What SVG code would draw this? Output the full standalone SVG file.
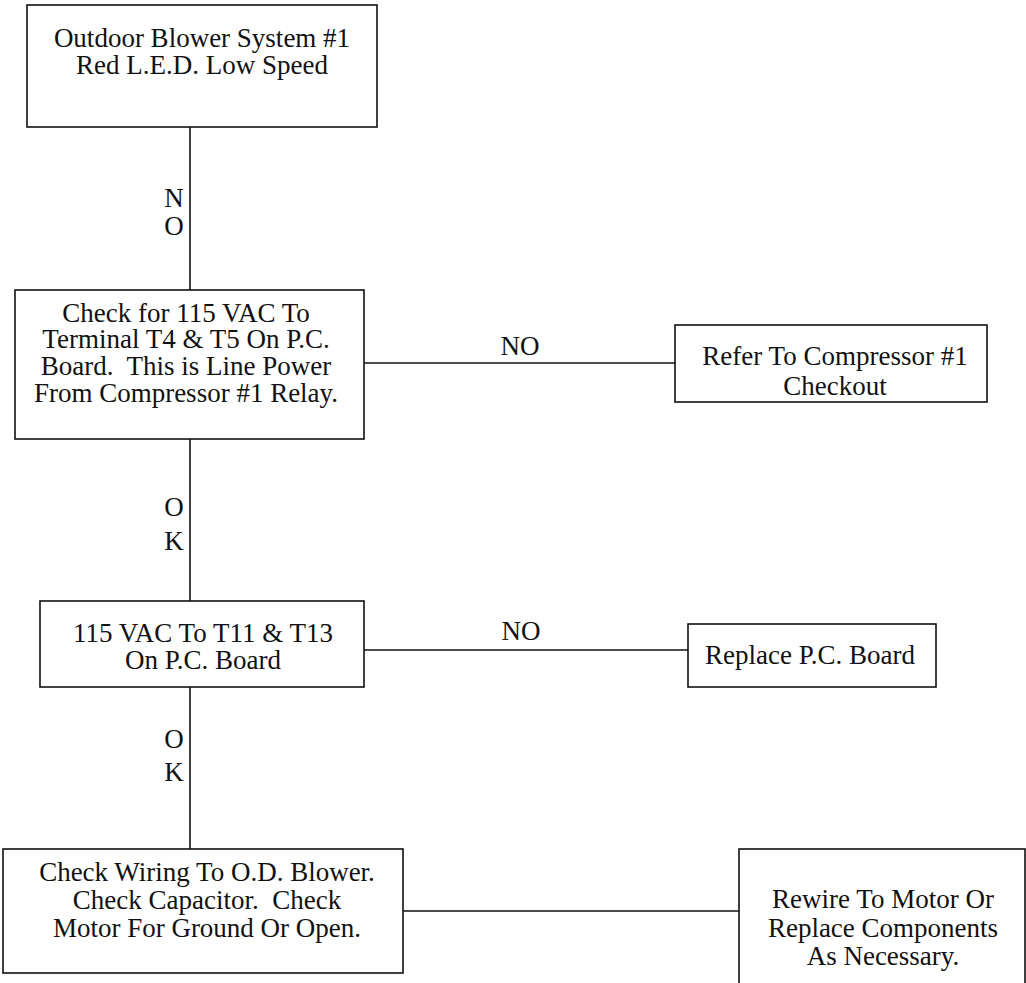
<svg xmlns="http://www.w3.org/2000/svg" width="1026" height="983" viewBox="0 0 1026 983">
<style>
.box{fill:#fff;stroke:#111;stroke-width:1.6}
.ln{stroke:#111;stroke-width:1.6;fill:none}
text{font-family:"Liberation Serif","Times New Roman",serif;font-size:27px;fill:#111}
.c{text-anchor:middle}
</style>
<rect width="1026" height="983" fill="#fff"/>
<g id="connectors">
<line class="ln" x1="190" y1="127" x2="190" y2="290"/>
<line class="ln" x1="190" y1="439" x2="190" y2="601"/>
<line class="ln" x1="190" y1="687" x2="190" y2="849"/>
<line class="ln" x1="364" y1="363" x2="675" y2="363"/>
<line class="ln" x1="364" y1="650" x2="688" y2="650"/>
<line class="ln" x1="403" y1="911" x2="739" y2="911"/>
<text class="c" x="174" y="207">N</text>
<text class="c" x="174" y="235">O</text>
<text class="c" x="174" y="516">O</text>
<text class="c" x="174" y="550">K</text>
<text class="c" x="174" y="748">O</text>
<text class="c" x="174" y="781">K</text>
<text class="c" x="520" y="355">NO</text>
<text class="c" x="521" y="640">NO</text>
</g>
<g id="n1">
<rect class="box" x="27" y="5" width="350" height="122"/>
<text class="c" x="202" y="47">Outdoor Blower System #1</text>
<text class="c" x="202" y="74">Red L.E.D. Low Speed</text>
</g>
<g id="n2">
<rect class="box" x="15" y="290" width="349" height="149"/>
<text class="c" x="186" y="322">Check for 115 VAC To</text>
<text class="c" x="186" y="348">Terminal T4 &amp; T5 On P.C.</text>
<text class="c" x="186" y="375" xml:space="preserve">Board.  This is Line Power</text>
<text class="c" x="186" y="402">From Compressor #1 Relay.</text>
</g>
<g id="n3">
<rect class="box" x="675" y="325" width="312" height="77"/>
<text class="c" x="835" y="365">Refer To Compressor #1</text>
<text class="c" x="835" y="395">Checkout</text>
</g>
<g id="n4">
<rect class="box" x="40" y="601" width="324" height="86"/>
<text class="c" x="203" y="642">115 VAC To T11 &amp; T13</text>
<text class="c" x="203" y="669">On P.C. Board</text>
</g>
<g id="n5">
<rect class="box" x="688" y="624" width="248" height="63"/>
<text class="c" x="810" y="664">Replace P.C. Board</text>
</g>
<g id="n6">
<rect class="box" x="3" y="849" width="400" height="124"/>
<text class="c" x="207" y="881">Check Wiring To O.D. Blower.</text>
<text class="c" x="207" y="909" xml:space="preserve">Check Capacitor.  Check</text>
<text class="c" x="207" y="937">Motor For Ground Or Open.</text>
</g>
<g id="n7">
<rect class="box" x="739" y="849" width="286" height="140"/>
<text class="c" x="883" y="908">Rewire To Motor Or</text>
<text class="c" x="883" y="937">Replace Components</text>
<text class="c" x="883" y="965">As Necessary.</text>
</g>
</svg>
